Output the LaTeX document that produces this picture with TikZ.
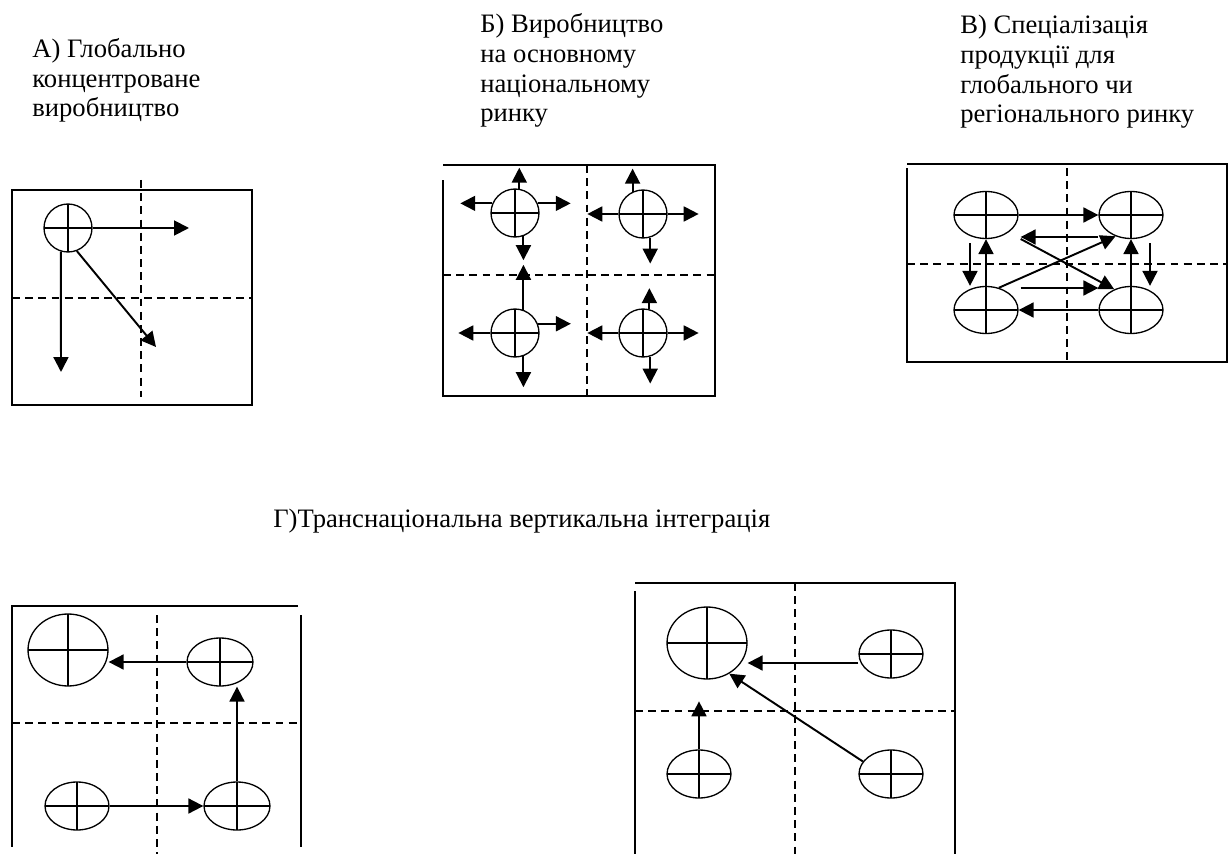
\documentclass[tikz,border=0pt]{standalone}
\usepackage{fontspec}
\setmainfont{Liberation Serif}
\usetikzlibrary{arrows.meta,shapes.geometric,calc}
\tikzset{
  unit/.style={draw, ellipse, inner sep=0pt, line width=0.75pt,
    path picture={\draw[line width=0.75pt]
      (path picture bounding box.north) -- (path picture bounding box.south)
      (path picture bounding box.west) -- (path picture bounding box.east);}},
  circ/.style={unit, minimum width=0.96cm, minimum height=0.96cm},
  oval/.style={unit, minimum width=1.28cm, minimum height=0.94cm},
  big/.style={unit, minimum width=1.6cm, minimum height=1.44cm},
  arr/.style={-{Triangle[length=8.5pt,width=8.5pt]}, line width=1.1pt},
  frame/.style={line width=0.9pt},
  grid/.style={dash pattern=on 4.5pt off 3pt, line width=0.75pt},
  caption/.style={anchor=base west, align=left, inner sep=0pt,
    font=\fontsize{15.15}{17.07}\selectfont}
}

\begin{document}
\begin{tikzpicture}[x=0.02cm, y=-0.02cm]
  \useasboundingbox (0,0) rectangle (1229,854);

  % А
  \node[caption] (ta) at (32,117) {А) Глобально\\концентроване\\виробництво};
  \draw[frame] (12,190) rectangle (252,405);
  \draw[grid] (141,180) -- (141,397);
  \draw[grid] (12,298) -- (252,298);
  \node[circ] (a1) at (68,228) {};
  \coordinate (ae) at (189,228);
  \coordinate (as) at (61,372);
  \coordinate (ad) at (156,347);
  \draw[arr] (a1.east) -- (ae);
  \draw[arr] (a1.-107) -- (as);
  \draw[arr] (a1.-69) -- (ad);

  % Б
  \node[caption] (tb) at (480,122) {Б) Виробництво\\на основному\\національному\\ринку};
  \draw[frame] (443,165) -- (715,165) -- (715,396) -- (443,396) -- (443,180);
  \draw[grid] (587,165) -- (587,396);
  \draw[grid] (443,275) -- (715,275);
  \node[circ] (b1) at (515,213) {};
  \node[circ] (b2) at (643,214) {};
  \node[circ] (b3) at (515,333) {};
  \node[circ] (b4) at (643,333) {};
  \draw[arr] (b1.80) -- ++(0,-21);
  \draw[arr] (b1.157) -- ++(-32,0);
  \draw[arr] (b1.23) -- ++(33,0);
  \draw[arr] (b1.-70) -- ++(0,24);
  \draw[arr] (b2.115) -- ++(0,-23);
  \draw[arr] (b2.west) -- ++(-31,0);
  \draw[arr] (b2.east) -- ++(31,0);
  \draw[arr] (b2.-73) -- ++(0,26);
  \draw[arr] (b3.70) -- ++(0,-45);
  \draw[arr] (b3.west) -- ++(-32,0);
  \draw[arr] (b3.22) -- ++(33,0);
  \draw[arr] (b3.-70) -- ++(0,31);
  \draw[arr] (b4.75) -- ++(0,-21);
  \draw[arr] (b4.west) -- ++(-31,0);
  \draw[arr] (b4.east) -- ++(31,0);
  \draw[arr] (b4.-73) -- ++(0,27);

  % В
  \node[caption] (tv) at (960,123) {В) Спеціалізація\\продукції для\\глобального чи\\регіонального ринку};
  \draw[frame] (907,164) -- (1227,164) -- (1227,362) -- (907,362) -- (907,168);
  \draw[grid] (1067,168) -- (1067,365);
  \draw[grid] (907,264) -- (1227,264);
  \node[oval] (v1) at (986,215) {};
  \node[oval] (v2) at (1131,215) {};
  \node[oval] (v3) at (986,310) {};
  \node[oval] (v4) at (1131,310) {};
  \draw[arr] (v1.east) -- (v2.west);
  \draw[arr] ($(v2.west)+(0,22)$) -- ($(v1.east)+(2,22)$);
  \draw[arr] ($(v1.east)+(2,24)$) -- (v4.129);
  \draw[arr] (v3.60) -- (v2.-126);
  \draw[arr] ($(v3.east)+(2,-22)$) -- ($(v4.west)+(0,-22)$);
  \draw[arr] (v4.west) -- (v3.east);
  \draw[arr] ($(v1.south)+(-16,4)$) -- ($(v3.north)+(-16,0)$);
  \draw[arr] (v3.north) -- (v1.south);
  \draw[arr] (v4.north) -- (v2.south);
  \draw[arr] ($(v2.south)+(19,4)$) -- ($(v4.north)+(19,0)$);

  % Г
  \node[caption] (tg) at (273,527) {Г)Транснаціональна вертикальна інтеграція};

  \draw[frame] (298,606) -- (12,606) -- (12,847);
  \draw[frame] (301,615) -- (301,847);
  \draw[grid] (157,615) -- (157,854);
  \draw[grid] (12,723) -- (301,723);
  \node[big] (g1) at (68,650) {};
  \node[oval, minimum width=1.32cm, minimum height=0.96cm] (g2) at (220,662) {};
  \node[oval, minimum height=0.96cm] (g3) at (77,806) {};
  \node[oval, minimum width=1.32cm, minimum height=0.96cm] (g4) at (237,806) {};
  \draw[arr] (g2.west) -- (g2.west -| g1.east);
  \draw[arr] (g3.east) -- (g4.west);
  \draw[arr] (g4.north) -- (g4.north |- g2.south);

  \draw[frame] (635,854) -- (635,591);
  \draw[frame] (635,583) -- (955,583) -- (955,854);
  \draw[grid] (795,583) -- (795,854);
  \draw[grid] (635,711) -- (955,711);
  \node[big] (h1) at (707,643) {};
  \node[oval, minimum height=0.96cm] (h2) at (891,654) {};
  \node[oval, minimum height=0.96cm] (h3) at (699,774) {};
  \node[oval, minimum height=0.96cm] (h4) at (891,774) {};
  \draw[arr] ($(h2.west)+(0,9)$) coordinate (h2w) -- (h2w -| h1.east);
  \draw[arr] (h4.156) -- (h1.-54);
  \draw[arr] (h3.north) -- ++(0,-48);
\end{tikzpicture}
\end{document}
